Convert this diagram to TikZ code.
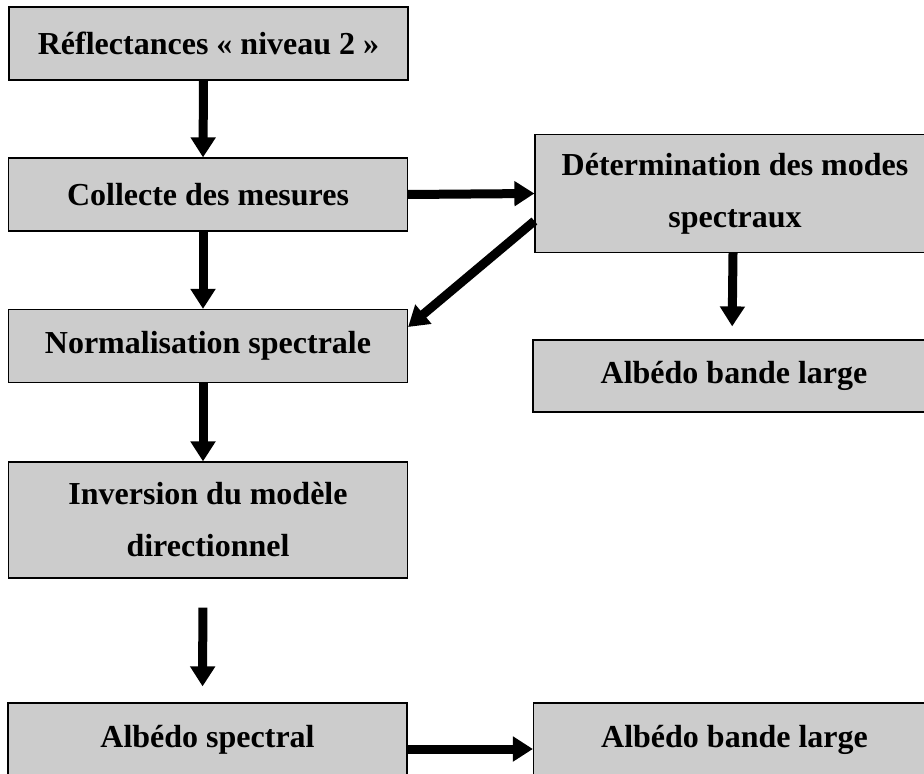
\documentclass[tikz,border=0pt]{standalone}
\usepackage{fontspec}
\setmainfont{Liberation Serif}
\usetikzlibrary{arrows.meta}

\begin{document}
\begin{tikzpicture}[x=0.5pt, y=-0.5pt,
    box/.style={draw, line width=0.6pt, fill=black!20, inner sep=0pt,
        minimum width=199.5pt, minimum height=36.5pt, align=center,
        font=\bfseries\fontsize{16}{26}\selectfont},
    tallbox/.style={box, minimum height=59pt},
    flow/.style={-{Triangle[width=12pt, length=10pt]}, line width=4.5pt}]
    \clip (0,0) rectangle (924,774);

    % Left column
    \node[box] (refl) at (208.5,43.5) {Réflectances « niveau 2 »};
    \node[box] (collecte) at (208,194.5) {Collecte des mesures};
    \node[box] (normal) at (208,346) {Normalisation spectrale};
    \node[tallbox, minimum height=58pt] (invers) at (208,520) {Inversion du modèle\\directionnel};
    \node[box, minimum height=37pt] (spectral) at (207.5,740) {Albédo spectral};

    % Right column
    \node[tallbox, minimum width=200pt] (modes) at (735,193.5) {Détermination des modes\\spectraux};
    \node[box, minimum width=201pt, minimum height=36pt] (largeA) at (734,376) {Albédo bande large};
    \node[box, minimum width=201pt, minimum height=37pt] (largeB) at (734.5,740) {Albédo bande large};

    % Vertical flow
    \foreach \a/\b in {refl/collecte, collecte/normal, normal/invers}
        \draw[flow] ([xshift=-2.5pt]\a.south) -- ([xshift=-2.5pt]\b.north);
    \draw[flow, shorten <=14.5pt, shorten >=8pt] ([xshift=-2.5pt]invers.south) -- ([xshift=-2.5pt]spectral.north);
    \draw[flow, shorten >=6.5pt] ([xshift=-1pt]modes.south) -- ([xshift=-1pt]largeA.north);

    % Side branches
    \draw[flow] (collecte.east) -- (modes.west);
    \draw[flow] ([yshift=-13.75pt]modes.west) -- ([yshift=9.5pt]normal.east);
    \draw[flow] ([yshift=-4.5pt]spectral.east) -- ([yshift=-4.5pt]largeB.west);
\end{tikzpicture}
\end{document}
